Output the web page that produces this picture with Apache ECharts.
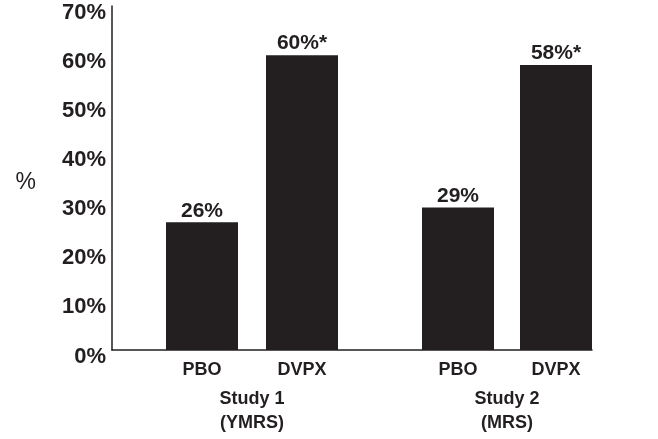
<!DOCTYPE html>
<html>
<head>
<meta charset="utf-8">
<script src="https://cdn.jsdelivr.net/npm/echarts@6/dist/echarts.min.js"></script>
<style>
html,body{margin:0;padding:0;background:#fff;}
#chart{width:658px;height:439px;}
</style>
</head>
<body>
<div id="chart"></div>
<script>
const treatments = ['PBO', 'DVPX'];
const studyNames = ['Study 1\n(YMRS)', 'Study 2\n(MRS)'];
const study1Values = [26, 60];
const study2Values = [29, 58];
const study1Marks = ['', '*'];
const study2Marks = ['', '*'];
const yTicks = [0, 10, 20, 30, 40, 50, 60, 70];

const INK = '#231f20';
const FONT = '"Liberation Sans Narrow", "Liberation Sans", Arial, sans-serif';

const chart = echarts.init(document.getElementById('chart'));

function studyXAxis(gridIndex, name) {
  return {
    type: 'category', gridIndex: gridIndex, data: treatments,
    axisLine: {show: false}, axisTick: {show: false},
    axisLabel: {color: INK, fontFamily: FONT, fontWeight: 'bold', fontSize: 18, margin: 11},
    name: name, nameLocation: 'middle', nameGap: 37,
    nameTextStyle: {color: INK, fontFamily: FONT, fontWeight: 'bold', fontSize: 18, lineHeight: 24}
  };
}
function hiddenY(gridIndex) {
  return {type: 'value', gridIndex: gridIndex, min: yTicks[0], max: yTicks[yTicks.length - 1], interval: 10, show: false};
}
function barSeries(axisIndex, values, marks) {
  return {
    type: 'bar', xAxisIndex: axisIndex, yAxisIndex: axisIndex,
    data: values, barWidth: 72,
    itemStyle: {color: INK},
    label: {
      show: true, position: 'top', distance: 1,
      color: INK, fontFamily: FONT, fontWeight: 'bold', fontSize: 21,
      formatter: p => p.value + '%' + marks[p.dataIndex]
    },
    silent: true, animation: false
  };
}

chart.setOption({
  animation: false,
  grid: [
    {left: 112, right: 66, top: 6, bottom: 89, containLabel: false, outerBoundsMode: 'none'},
    {left: 152, width: 200, top: 6, bottom: 89, containLabel: false, outerBoundsMode: 'none'},
    {left: 409, width: 196, top: 6, bottom: 89, containLabel: false, outerBoundsMode: 'none'}
  ],
  xAxis: [
    {type: 'category', gridIndex: 0, data: [''],
     axisLine: {show: true, lineStyle: {color: INK, width: 1.5}},
     axisTick: {show: false}, axisLabel: {show: false}},
    studyXAxis(1, studyNames[0]),
    studyXAxis(2, studyNames[1])
  ],
  yAxis: [
    {type: 'value', gridIndex: 0, min: yTicks[0], max: yTicks[yTicks.length - 1], interval: 10,
     axisLine: {show: true, lineStyle: {color: INK, width: 1.5}},
     axisTick: {show: false}, splitLine: {show: false},
     axisLabel: {margin: 6, formatter: '{t|{value}%}',
                 rich: {t: {color: INK, fontFamily: FONT, fontWeight: 'bold', fontSize: 22, padding: [13, 0, 0, 0]}}},
     name: '{n|%}', nameLocation: 'middle', nameRotate: 0, nameGap: 76,
     nameTextStyle: {rich: {n: {color: INK, fontFamily: FONT, fontSize: 23, padding: [10, 0, 0, 0]}}}},
    hiddenY(1),
    hiddenY(2)
  ],
  series: [
    barSeries(1, study1Values, study1Marks),
    barSeries(2, study2Values, study2Marks)
  ]
});
</script>
</body>
</html>
